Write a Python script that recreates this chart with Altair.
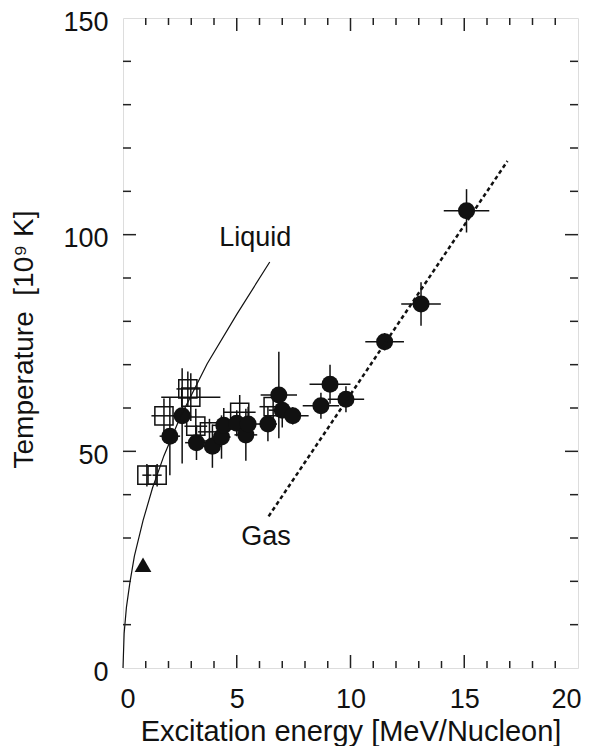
import altair as alt
import pandas as pd

# ---- data ----
circ_x = [2.06, 2.6, 3.23, 3.93, 4.33, 4.43, 5.0, 5.4, 5.5, 6.37, 6.85, 7.0, 7.46, 8.7, 9.1, 9.8, 11.5, 13.1, 15.1]
circ_y = [53.5, 58.2, 52.0, 51.2, 53.3, 56.0, 56.5, 53.8, 56.3, 56.3, 63.0, 59.5, 58.2, 60.5, 65.5, 62.0, 75.3, 84.0, 105.5]
circ_xerr = [0.45, 0.4, 0.5, 0.4, 0.4, 0.5, 0.5, 0.5, 0.5, 0.4, 0.8, 0.6, 0.7, 0.8, 0.9, 0.8, 0.85, 0.87, 1.0]
circ_yerr = [9.0, 11.0, 4.0, 5.0, 5.0, 4.0, 3.0, 6.0, 4.0, 4.0, 10.0, 4.0, 2.0, 3.0, 4.5, 3.0, 2.0, 5.0, 5.0]

sq_x = [1.05, 1.5, 1.8, 2.85, 2.98, 3.2, 3.8, 5.13, 6.6]
sq_y = [44.5, 44.5, 58.2, 64.4, 62.5, 55.8, 54.5, 59.0, 60.3]
sq_xerr = [0.2, 0.2, 0.55, 0.5, 1.3, 0.5, 0.5, 0.7, 0.6]
sq_yerr = [2.6, 2.6, 4.0, 4.0, 5.5, 4.0, 3.0, 4.0, 4.0]

tri_x = [0.88]
tri_y = [23.8]

liquid_x = [0.0, 0.05, 0.15, 0.3, 0.5, 0.88, 1.3, 1.8, 2.5, 3.7, 5.0, 6.45]
liquid_y = [0.0, 8.0, 14.0, 19.6, 25.8, 34.0, 41.6, 49.0, 57.7, 70.2, 81.6, 93.7]

gas_x = [6.4, 16.9]
gas_y = [35.0, 117.0]

label_text = ["Liquid", "Gas"]
label_x = [5.81, 6.29]
label_y = [97.4, 28.4]

x_major = [5, 10, 15]
x_minor = [1, 2, 3, 4, 6, 7, 8, 9, 11, 12, 13, 14, 16, 17, 18, 19]
y_major = [50, 100]
y_minor = [10, 20, 30, 40, 60, 70, 80, 90, 110, 120, 130, 140]

W, H = 455, 650
FONT = "Liberation Sans"
INK = "#111111"

xscale = alt.Scale(domain=[0, 20], nice=False, zero=False)
yscale = alt.Scale(domain=[0, 150], nice=False, zero=False)
xaxis = alt.Axis(values=[0, 5, 10, 15, 20], ticks=False, domain=False, grid=False,
                 labelFontSize=27, labelFont=FONT, labelColor=INK, labelPadding=18,
                 labelFlush=True, labelFlushOffset=3,
                 title="Excitation energy [MeV/Nucleon]",
                 titleFontSize=29, titleFont=FONT, titleColor=INK, titleFontWeight="normal",
                 titleX=W / 2, titleY=72, titleBaseline="alphabetic")
yaxis = alt.Axis(values=[0, 50, 100, 150], ticks=False, domain=False, grid=False,
                 labelFontSize=27, labelFont=FONT, labelColor=INK, labelPadding=15,
                 labelFlush=False, labelBaseline="middle", labelOffset=4,
                 title="Temperature \u00a0[10\u2079 K]",
                 titleFontSize=28, titleFont=FONT, titleColor=INK, titleFontWeight="normal",
                 titleX=-85, titleY=H / 2 - 4, titleBaseline="bottom", titleAngle=270)


def X(f="x"):
    return alt.X(f, type="quantitative", scale=xscale, axis=xaxis)


def Y(f="y"):
    return alt.Y(f, type="quantitative", scale=yscale, axis=yaxis)


circ = pd.DataFrame({"x": circ_x, "y": circ_y, "xe": circ_xerr, "ye": circ_yerr})
circ["x1"] = circ.x - circ.xe
circ["x2"] = circ.x + circ.xe
circ["y1"] = circ.y - circ.ye
circ["y2"] = circ.y + circ.ye
sq = pd.DataFrame({"x": sq_x, "y": sq_y, "xe": sq_xerr, "ye": sq_yerr})
sq["x1"] = sq.x - sq.xe
sq["x2"] = sq.x + sq.xe
sq["y1"] = sq.y - sq.ye
sq["y2"] = sq.y + sq.ye
tri = pd.DataFrame({"x": tri_x, "y": tri_y})
liq = pd.DataFrame({"x": liquid_x, "y": liquid_y, "o": list(range(len(liquid_x)))})
gas = pd.DataFrame({"x": gas_x, "y": gas_y, "o": [0, 1]})
labels = pd.DataFrame({"t": label_text, "x": label_x, "y": label_y})

layers = []


def errbars(df):
    h = alt.Chart(df).mark_rule(color=INK, strokeWidth=1.5).encode(
        x=X("x1"), x2=alt.X2("x2"), y=Y("y"))
    v = alt.Chart(df).mark_rule(color=INK, strokeWidth=1.5).encode(
        x=X("x"), y=Y("y1"), y2=alt.Y2("y2"))
    return [h, v]


layers += errbars(sq)
layers.append(alt.Chart(sq).mark_point(shape="square", size=330, filled=False,
                                       color=INK, strokeWidth=1.5, opacity=1).encode(x=X(), y=Y()))
layers += errbars(circ)
layers.append(alt.Chart(circ).mark_circle(size=290, color=INK, opacity=1).encode(x=X(), y=Y()))
layers.append(alt.Chart(tri).mark_point(shape="triangle-up", size=280, filled=True,
                                        color=INK, opacity=1).encode(x=X(), y=Y()))
layers.append(alt.Chart(liq).mark_line(color=INK, strokeWidth=1.2).encode(
    x=X(), y=Y(), order="o:Q"))
layers.append(alt.Chart(gas).mark_line(color=INK, strokeWidth=2.5, strokeDash=[4, 3]).encode(
    x=X(), y=Y(), order="o:Q"))
layers.append(alt.Chart(labels).mark_text(font=FONT, fontSize=27, color=INK, align="center",
                                          baseline="alphabetic").encode(x=X(), y=Y(), text="t:N"))

# inward ticks on all four sides
xt_maj = pd.DataFrame({"x": x_major})
xt_min = pd.DataFrame({"x": x_minor})
yt_maj = pd.DataFrame({"y": y_major})
yt_min = pd.DataFrame({"y": y_minor})
TK = dict(color="#222222", strokeWidth=1.5)
layers += [
    alt.Chart(xt_min).mark_rule(**TK).encode(x=X(), y=alt.value(H), y2=alt.value(H - 7)),
    alt.Chart(xt_maj).mark_rule(**TK).encode(x=X(), y=alt.value(H), y2=alt.value(H - 13)),
    alt.Chart(xt_min).mark_rule(**TK).encode(x=X(), y=alt.value(0), y2=alt.value(7)),
    alt.Chart(xt_maj).mark_rule(**TK).encode(x=X(), y=alt.value(0), y2=alt.value(13)),
    alt.Chart(yt_min).mark_rule(**TK).encode(y=Y(), x=alt.value(0), x2=alt.value(8)),
    alt.Chart(yt_maj).mark_rule(**TK).encode(y=Y(), x=alt.value(0), x2=alt.value(13)),
    alt.Chart(yt_min).mark_rule(**TK).encode(y=Y(), x=alt.value(W), x2=alt.value(W - 8)),
    alt.Chart(yt_maj).mark_rule(**TK).encode(y=Y(), x=alt.value(W), x2=alt.value(W - 13)),
]

chart = alt.layer(*layers).properties(
    width=W, height=H,
    autosize=alt.AutoSizeParams(type="none"),
    padding={"left": 115, "top": 10, "right": 6, "bottom": 78},
).configure_view(stroke="#222222", strokeWidth=1.5).configure(background="white")

chart.save("out.html", embed_options={"renderer": "svg", "actions": False})
